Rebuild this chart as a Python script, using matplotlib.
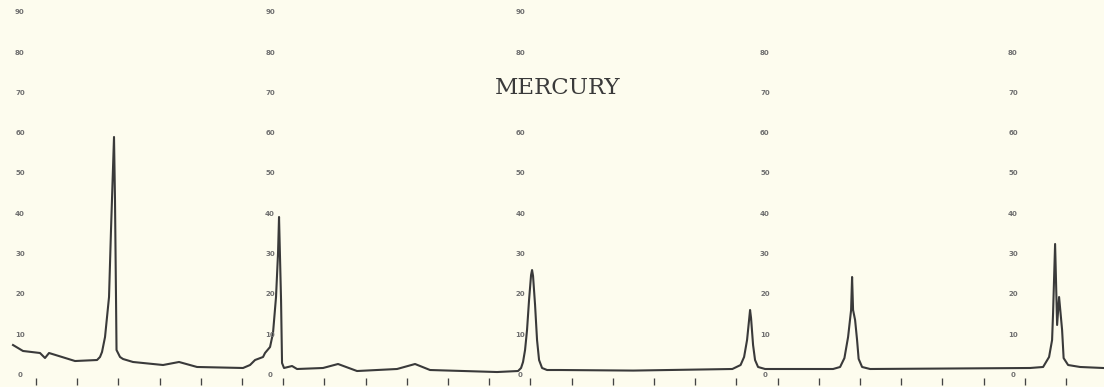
"""Mercury emission scan, redrawn from a scanned strip-chart recording."""

import matplotlib
matplotlib.use("Agg")
import matplotlib.pyplot as plt
import numpy as np


# chart divisions along the bottom (tick marks), 0..25
divisions = np.arange(26)

# recorder trace: position in divisions, pen reading in chart units
trace_x = [
    -0.558, -0.316, 0.097, 0.218, 0.316, 0.631, 0.947, 1.481, 1.553, 1.602,
    1.675, 1.772, 1.820, 1.893, 1.917, 1.942, 1.954, 2.039, 2.112, 2.354,
    3.083, 3.471, 3.908, 5.024, 5.194, 5.316, 5.510, 5.558, 5.680, 5.752,
    5.825, 5.874, 5.898, 5.947, 5.971, 6.019, 6.214, 6.335, 6.966, 7.330,
    7.791, 8.762, 9.199, 9.563, 11.189, 11.699, 11.772, 11.820, 11.869, 11.917,
    11.966, 12.015, 12.039, 12.063, 12.112, 12.160, 12.209, 12.282, 12.403, 12.718,
    14.500, 16.900, 17.100, 17.185, 17.257, 17.306, 17.330, 17.354, 17.403, 17.451,
    17.524, 17.694, 19.345, 19.515, 19.620, 19.709, 19.782, 19.806, 19.830, 19.879,
    19.927, 19.965, 20.049, 20.243, 22.000, 24.126, 24.442, 24.587, 24.660, 24.684,
    24.733, 24.782, 24.830, 24.903, 24.940, 25.049, 25.340, 25.898,
]
trace_y = [
    7.44, 5.96, 5.46, 4.22, 5.46, 4.47, 3.47, 3.72, 4.47, 5.71,
    9.43, 19.35, 35.98, 59.06, 43.42, 18.61, 6.20, 4.47, 3.97, 3.23,
    2.48, 3.23, 1.99, 1.74, 2.48, 3.72, 4.47, 5.46, 6.95, 10.42,
    19.35, 30.27, 39.21, 18.61, 2.98, 1.74, 2.23, 1.49, 1.74, 2.73,
    0.99, 1.49, 2.73, 1.24, 0.74, 0.99, 1.74, 3.23, 6.20, 11.17,
    18.61, 24.81, 26.05, 24.57, 17.37, 8.68, 3.72, 1.74, 1.24, 1.24,
    1.10, 1.49, 2.48, 4.47, 8.68, 13.65, 16.13, 14.14, 7.44, 3.72,
    1.99, 1.49, 1.49, 1.99, 4.20, 9.43, 16.13, 24.32, 16.13, 13.65,
    8.68, 4.00, 1.99, 1.49, 1.60, 1.74, 1.99, 4.47, 8.68, 15.38,
    32.51, 12.41, 19.35, 11.17, 4.20, 2.48, 1.99, 1.74,
]

# scale columns printed on the chart paper (x in divisions) and their values
scale_x = [-0.39, 5.68, 11.75, 17.69, 23.71]
scale_values = [
    [0, 10, 20, 30, 40, 50, 60, 70, 80, 90],
    [0, 10, 20, 30, 40, 50, 60, 70, 80, 90],
    [0, 10, 20, 30, 40, 50, 60, 80, 90],
    [0, 10, 20, 30, 40, 50, 60, 70, 80],
    [0, 10, 20, 30, 40, 50, 60, 70, 80],
]

title = "MERCURY"

PAPER = "#fdfcee"
INK = "#3a3a3a"


def main():
    fig = plt.figure(figsize=(11.04, 3.87), dpi=100, facecolor=PAPER)
    ax = fig.add_axes([0, 2 / 387, 1, 385 / 387])
    ax.set_facecolor(PAPER)

    ax.plot(trace_x, trace_y, color=INK, lw=1.5, solid_joinstyle="round")

    # faint printed scale numbers
    for col_x, values in zip(scale_x, scale_values):
        for v in values:
            ax.text(col_x, v, str(v), ha="center", va="center",
                    fontsize=5, fontweight="bold", color="#707070")

    # typed label, slab-serif typewriter look
    ax.text(12.65, 71.2, title, ha="center", va="center", fontsize=16.5,
            family=["DejaVu Serif"], color="#3a3a3a")

    ax.set_xlim(-0.874, 25.92)
    ax.set_ylim(-2.48, 93.05)
    ax.set_xticks(divisions)
    ax.set_yticks([])
    ax.tick_params(axis="x", direction="in", length=5, width=0.95,
                   color="#444444", labelbottom=False)
    for spine in ax.spines.values():
        spine.set_visible(False)

    fig.savefig("out.png", dpi=100, facecolor=PAPER)


if __name__ == "__main__":
    main()
